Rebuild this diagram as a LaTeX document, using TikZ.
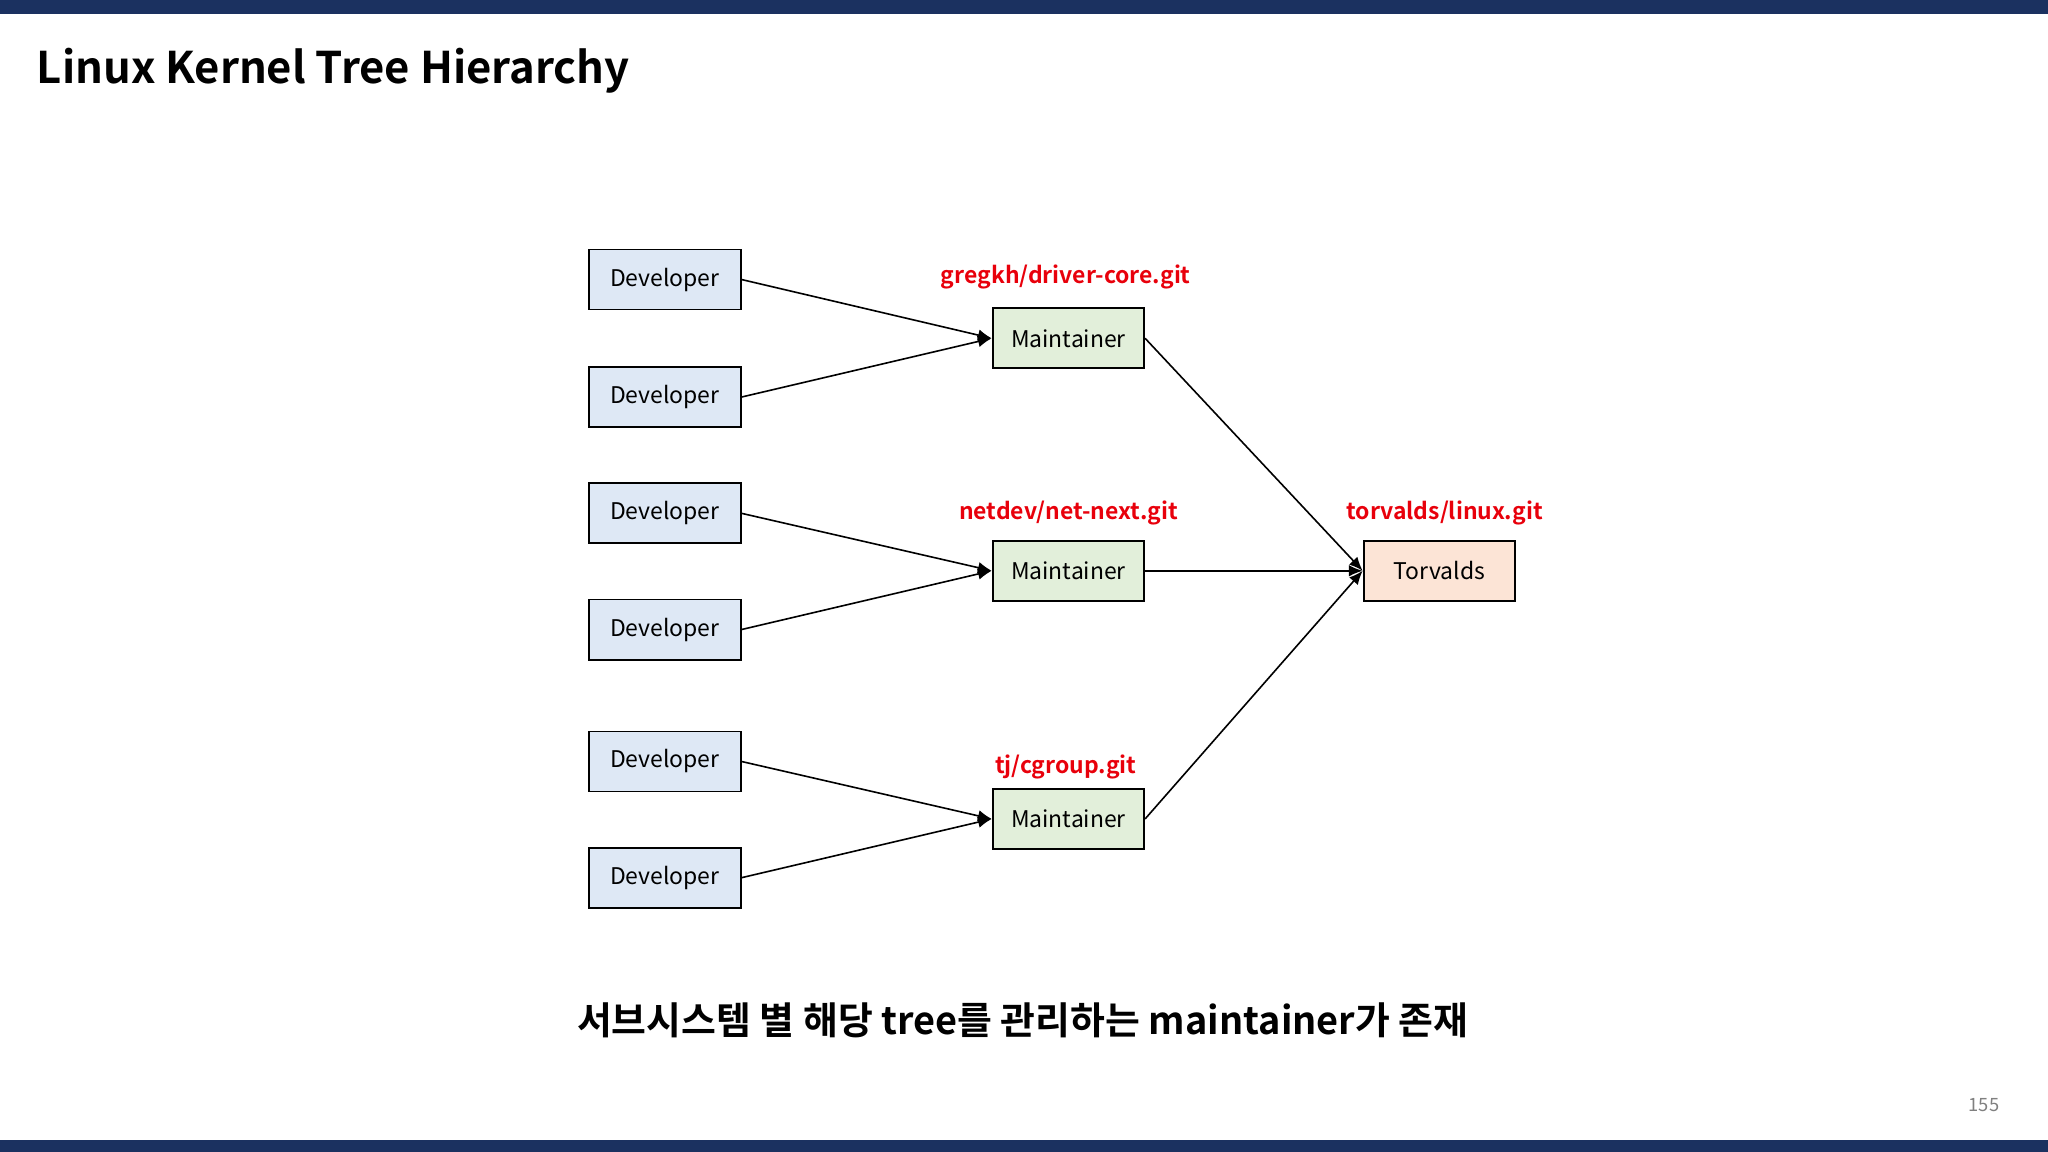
\documentclass[tikz,border=0pt]{standalone}
\usepackage{fontspec}
\setmainfont{Noto Sans CJK KR}[BoldFont={Noto Sans CJK KR Bold}]
\usetikzlibrary{arrows.meta}
\definecolor{navy}{HTML}{1B3160}
\definecolor{devc}{HTML}{DEE8F5}
\definecolor{mntc}{HTML}{E2EFDA}
\definecolor{torc}{HTML}{FCE4D6}
\definecolor{lbl}{HTML}{E8000B}
\begin{document}
\begin{tikzpicture}[x=0.02cm,y=-0.02cm,
  box/.style={draw=black,line width=0.8pt,minimum width=116*0.02cm,minimum height=46*0.02cm,inner sep=0pt,font=\fontsize{10}{12}\selectfont},
  dev/.style={box,fill=devc},
  mnt/.style={box,fill=mntc},
  tor/.style={box,fill=torc},
  lab/.style={text=lbl,font=\fontsize{10}{12}\selectfont\bfseries},
  arr/.style={-{Latex[length=6pt,width=5pt]},line width=0.7pt}]
\useasboundingbox (0,0) rectangle (1568,882);
\fill[navy] (0,0) rectangle (1568,11);
\fill[navy] (0,873) rectangle (1568,882);
\node[anchor=west,font=\fontsize{19}{22}\selectfont\bfseries] (title) at (22,54) {Linux Kernel Tree Hierarchy};
\node[dev] (d1) at (509,214) {Developer};
\node[dev] (d2) at (509,304) {Developer};
\node[dev] (d3) at (509,393) {Developer};
\node[dev] (d4) at (509,482) {Developer};
\node[dev] (d5) at (509,583) {Developer};
\node[dev] (d6) at (509,672) {Developer};
\node[mnt] (m1) at (818,259) {Maintainer};
\node[mnt] (m2) at (818,437) {Maintainer};
\node[mnt] (m3) at (818,627) {Maintainer};
\node[tor] (t) at (1102,437) {Torvalds};
\node[lab] (l1) at (816,212) {gregkh/driver-core.git};
\node[lab] (l2) at (818,393) {netdev/net-next.git};
\node[lab] (l3) at (816,587) {tj/cgroup.git};
\node[lab] (l4) at (1106,393) {torvalds/linux.git};
\draw[arr] (d1.east) -- (m1.west);
\draw[arr] (d2.east) -- (m1.west);
\draw[arr] (d3.east) -- (m2.west);
\draw[arr] (d4.east) -- (m2.west);
\draw[arr] (d5.east) -- (m3.west);
\draw[arr] (d6.east) -- (m3.west);
\draw[arr] (m1.east) -- (t.west);
\draw[arr] (m2.east) -- (t.west);
\draw[arr] (m3.east) -- (t.west);
\node[font=\fontsize{16.5}{20}\selectfont\bfseries] (sub) at (783,781) {서브시스템 별 해당 tree를 관리하는 maintainer가 존재};
\node[text=gray,font=\fontsize{8}{10}\selectfont] (pg) at (1519,846) {155};
\end{tikzpicture}
\end{document}
